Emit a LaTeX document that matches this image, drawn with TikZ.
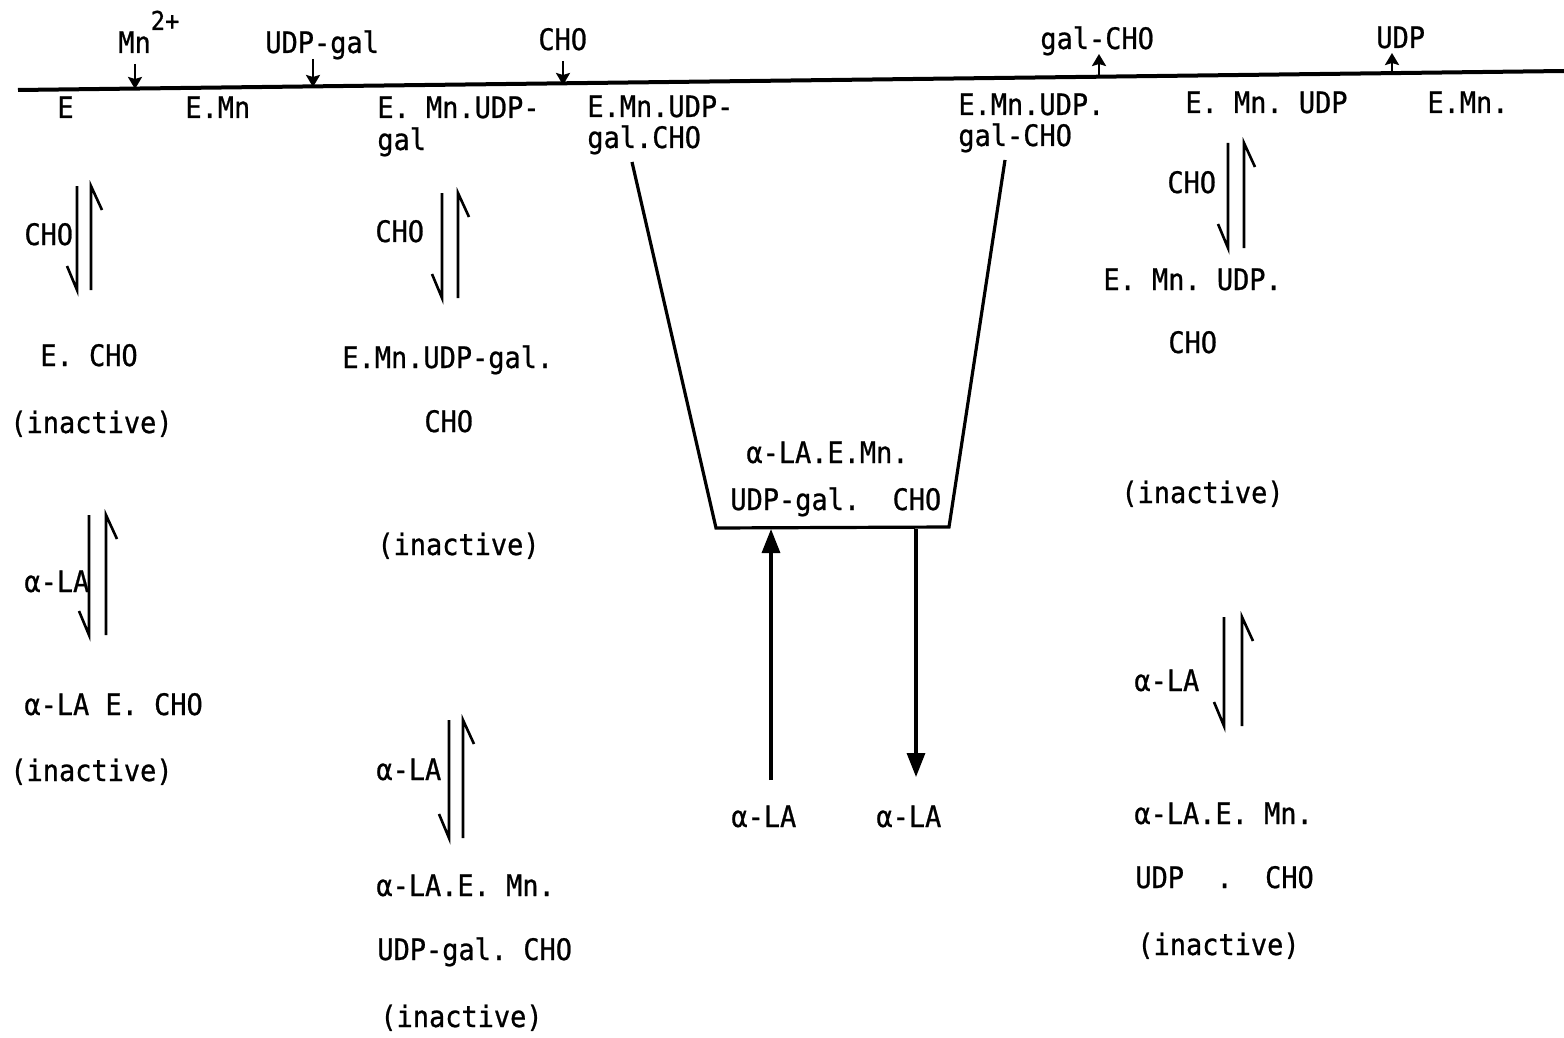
\documentclass[tikz,border=0pt]{standalone}
\usepackage{fontspec}
\usetikzlibrary{arrows.meta}
\newfontfamily\tw[FakeStretch=0.91,FakeBold=0.8]{DejaVu Sans Mono}
\tikzset{
  lab/.style={font={\tw\fontsize{14.8}{17}\selectfont}, inner sep=0pt, anchor=base west},
  mainline/.style={line width=2pt},
  small/.style={line width=1.4pt, -{Stealth[length=6pt,width=7pt,inset=1pt]}},
  eq/.style={line width=1.3pt, line join=miter},
  trap/.style={line width=1.6pt, line join=miter},
  big/.style={line width=1.6pt, -{Triangle[length=12pt,width=9pt]}}
}
\newcommand\eqarrows[4]{%
  \draw[eq] (#1,#3) -- (#1,#4) -- ++(-10,-24);
  \draw[eq] (#2,#4) -- (#2,#3) -- ++(11,24);
}
\begin{document}
\begin{tikzpicture}[x=0.5pt,y=-0.5pt]
\useasboundingbox (0,0) rectangle (1564,1038);
% main line
\coordinate (L) at (18,90);
\coordinate (R) at (1564,71);
\draw[mainline] (L) -- (R);
% reagents on top
\node[lab] (mn) at (118,53) {Mn\raisebox{11.5pt}{\fontsize{13}{13}\selectfont 2+}};
\node[lab] (udpgal) at (265,53) {UDP-gal};
\node[lab] (cho) at (538,50) {CHO};
\node[lab] (galcho) at (1040,49) {gal-CHO};
\node[lab] (udp) at (1376,48) {UDP};
\coordinate (a1s) at (135,64); \coordinate (a1e) at (135,89);
\coordinate (a2s) at (313,59); \coordinate (a2e) at (313,87);
\coordinate (a3s) at (563,61); \coordinate (a3e) at (563,85);
\coordinate (a4s) at (1099,77); \coordinate (a4e) at (1099,54);
\coordinate (a5s) at (1392,73); \coordinate (a5e) at (1392,53);
\draw[small] (a1s) -- (a1e);
\draw[small] (a2s) -- (a2e);
\draw[small] (a3s) -- (a3e);
\draw[small] (a4s) -- (a4e);
\draw[small] (a5s) -- (a5e);
% species below line
\node[lab] (s1) at (57,118) {E};
\node[lab] (s2) at (185,118) {E.Mn};
\node[lab] (s3a) at (377,118) {E.\ Mn.UDP-};
\node[lab] (s3b) at (377,150) {gal};
\node[lab] (s4a) at (587,117) {E.Mn.UDP-};
\node[lab] (s4b) at (587,148) {gal.CHO};
\node[lab] (s5a) at (958,115) {E.Mn.UDP.};
\node[lab] (s5b) at (958,146) {gal-CHO};
\node[lab] (s6) at (1185,113) {E.\ Mn.\ UDP};
\node[lab] (s7) at (1427,113) {E.Mn.};
% left column
\eqarrows{77}{91}{186}{290}
\node[lab] (c1a) at (24,245) {CHO};
\node[lab] (c1b) at (40,366) {E.\ CHO};
\node[lab] (c1c) at (10,433) {(inactive)};
\eqarrows{89}{106}{515}{635}
\node[lab] (c1d) at (24,592) {α-LA};
\node[lab] (c1e) at (24,715) {α-LA E.\ CHO};
\node[lab] (c1f) at (10,781) {(inactive)};
% second column
\eqarrows{442}{458}{193}{298}
\node[lab] (c2a) at (375,242) {CHO};
\node[lab] (c2b) at (342,368) {E.Mn.UDP-gal.};
\node[lab] (c2c) at (424,432) {CHO};
\node[lab] (c2d) at (377,555) {(inactive)};
\eqarrows{449}{463}{720}{838}
\node[lab] (c2e) at (376,780) {α-LA};
\node[lab] (c2f) at (376,896) {α-LA.E.\ Mn.};
\node[lab] (c2g) at (377,960) {UDP-gal.\ CHO};
\node[lab] (c2h) at (380,1027) {(inactive)};
% right column
\eqarrows{1228}{1244}{143}{248}
\node[lab] (c3a) at (1167,193) {CHO};
\node[lab] (c3b) at (1103,290) {E.\ Mn.\ UDP.};
\node[lab] (c3c) at (1168,353) {CHO};
\node[lab] (c3d) at (1121,503) {(inactive)};
\eqarrows{1224}{1242}{617}{726}
\node[lab] (c3e) at (1134,691) {α-LA};
\node[lab] (c3f) at (1134,824) {α-LA.E.\ Mn.};
\node[lab] (c3g) at (1135,888) {UDP\ \ .\ \ CHO};
\node[lab] (c3h) at (1137,955) {(inactive)};
% trapezoid complex
\coordinate (tl) at (632,162);
\coordinate (bl) at (716,528);
\coordinate (br) at (949,527);
\coordinate (tr) at (1005,160);
\draw[trap] (tl) -- (bl) -- (br) -- (tr);
\node[lab] (t1) at (746,463) {α-LA.E.Mn.};
\node[lab] (t2) at (730,510) {UDP-gal.\ \ CHO};
\node[lab] (la1) at (731,827) {α-LA};
\node[lab] (la2) at (876,827) {α-LA};
\coordinate (up1) at (771,780);
\coordinate (up2) at (771,529);
\coordinate (dn1) at (916,529);
\coordinate (dn2) at (916,777);
\draw[big] (up1) -- (up2);
\draw[big] (dn1) -- (dn2);
\end{tikzpicture}
\end{document}
